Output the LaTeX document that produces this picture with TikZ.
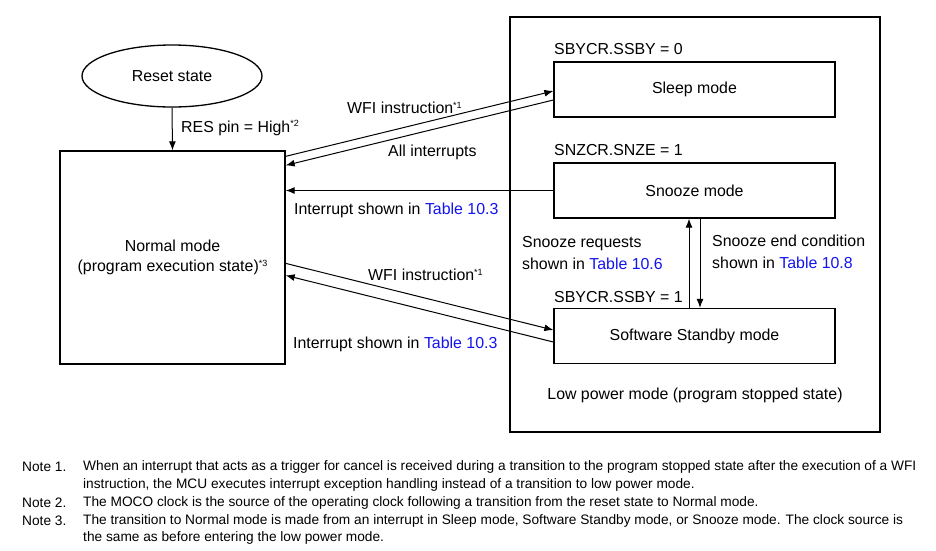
\documentclass[tikz,border=0pt]{standalone}
\usepackage{fontspec}
\setmainfont{Liberation Sans}
\usetikzlibrary{shapes.geometric,arrows.meta,calc}
\definecolor{linkblue}{RGB}{20,20,240}
\newcommand{\noteref}[1]{\raisebox{5.5pt}{\fontsize{9}{9}\selectfont #1}}
\newcommand{\tbl}[1]{\textcolor{linkblue}{#1}}
\begin{document}
\begin{tikzpicture}[x=1pt,y=-1pt,
  box/.style={draw, line width=1.3pt, inner sep=0pt, minimum width=281pt, minimum height=55pt, font=\fontsize{15.9}{20}\selectfont},
  lbl/.style={inner sep=0pt, anchor=west, font=\fontsize{15.9}{22}\selectfont, align=left},
  arr/.style={line width=1pt, -{Latex[length=9pt,width=7pt]}},
  note/.style={inner sep=0pt, anchor=west, font=\fontsize{13.7}{18}\selectfont, align=left}]
\useasboundingbox (0,0) rectangle (936,550);
\fill[white] (0,0) rectangle (936,550);

% outer low power box
\node[draw, line width=1.3pt, inner sep=0pt, minimum width=370pt, minimum height=415pt] (lowpower) at (695,224.5) {};
\node[inner sep=0pt, font=\fontsize{15.9}{20}\selectfont] (lowlbl) at (695,395) {Low power mode (program stopped state)};

% reset state
\node[draw, ellipse, line width=1.3pt, inner sep=0pt, minimum width=180pt, minimum height=62pt, font=\fontsize{15.9}{20}\selectfont] (reset) at (172,76) {Reset state};

% normal mode
\node[draw, line width=1.3pt, inner sep=0pt, minimum width=225pt, minimum height=213pt, align=center, font=\fontsize{15.9}{20}\selectfont] (normal) at (172.5,257.5) {Normal mode\\(program execution state)\noteref{*3}};

% low power sub-boxes
\node[box] (sleep) at (694.5,89.5) {Sleep mode};
\node[box] (snooze) at (694.5,190.5) {Snooze mode};
\node[box] (standby) at (694.5,336) {Software Standby mode};

\node[lbl] (c1) at (554,49) {SBYCR.SSBY = 0};
\node[lbl] (c2) at (554,150) {SNZCR.SNZE = 1};
\node[lbl] (c3) at (554,297) {SBYCR.SSBY = 1};

% connectors
\draw[arr] (reset.south) -- (normal.north);
\node[lbl] (reslbl) at (181,128) {RES pin = High\noteref{*2}};

\draw[arr] ($(normal.north east)+(0,6)$) -- ($(sleep.west)+(0,1.5)$);
\draw[arr] ($(sleep.west)+(0,10.5)$) -- ($(normal.north east)+(0,15)$);
\node[lbl] (wfi1) at (347,108) {WFI instruction\noteref{*1}};
\node[lbl] (allint) at (388,152) {All interrupts};

\draw[arr] (snooze.west) -- (normal.east |- snooze.west);
\node[lbl] (int1) at (294,210) {Interrupt shown in \tbl{Table 10.3}};

\draw[arr] ($(normal.north east)+(0,113)$) -- ($(standby.west)+(0,-6)$);
\draw[arr] ($(standby.west)+(0,6)$) -- ($(normal.north east)+(0,125)$);
\node[lbl] (wfi2) at (368,275) {WFI instruction\noteref{*1}};
\node[lbl] (int2) at (293,344) {Interrupt shown in \tbl{Table 10.3}};

\draw[arr] ($(standby.north)+(-5.5,0)$) -- ($(snooze.south)+(-5.5,0)$);
\draw[arr] ($(snooze.south)+(5.5,0)$) -- ($(standby.north)+(5.5,0)$);
\node[lbl] (snzreq) at (522,253) {Snooze requests\\shown in \tbl{Table 10.6}};
\node[lbl] (snzend) at (712,252) {Snooze end condition\\shown in \tbl{Table 10.8}};

% notes
\node[note] (n1) at (22,467) {Note 1.};
\node[note] (n1t) at (83,467) {When an interrupt that acts as a trigger for cancel is received during a transition to the program stopped state after the execution of a WFI};
\node[note] (n1u) at (83,485) {instruction, the MCU executes interrupt exception handling instead of a transition to low power mode.};
\node[note] (n2) at (22,503) {Note 2.};
\node[note] (n2t) at (83,503) {The MOCO clock is the source of the operating clock following a transition from the reset state to Normal mode.};
\node[note] (n3) at (22,521) {Note 3.};
\node[note] (n3t) at (83,521) {The transition to Normal mode is made from an interrupt in Sleep mode, Software Standby mode, or Snooze mode. The clock source is};
\node[note] (n3u) at (83,538) {the same as before entering the low power mode.};
\end{tikzpicture}
\end{document}
